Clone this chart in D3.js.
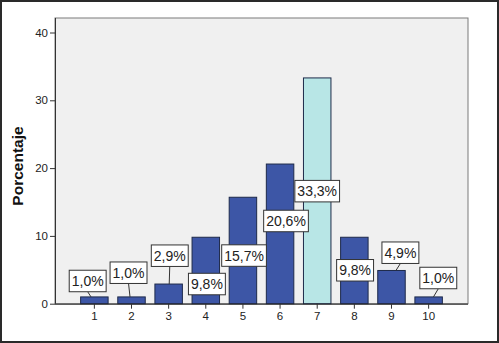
<!DOCTYPE html>
<html>
<head>
<meta charset="utf-8">
<script src="https://cdn.jsdelivr.net/npm/d3@7"></script>
<style>
  html, body { margin: 0; padding: 0; background: #fff; }
  svg { display: block; }
  text { font-family: "Liberation Sans", Arial, sans-serif; }
</style>
</head>
<body>
<script>
// ---- data ----
const categories = ["1", "2", "3", "4", "5", "6", "7", "8", "9", "10"];
const values = [1.0, 1.0, 2.9, 9.8, 15.7, 20.6, 33.3, 9.8, 4.9, 1.0];
const valueLabels = ["1,0%", "1,0%", "2,9%", "9,8%", "15,7%", "20,6%", "33,3%", "9,8%", "4,9%", "1,0%"];
const highlighted = ["7"];
// label anchor (in percent units) and horizontal shift (in band steps)
const labelAt = [3.35, 4.57, 7.08, 2.9, 7.1, 12.2, 16.6, 4.93, 7.52, 3.79];
const labelShift = [-0.18, -0.08, 0.03, 0.03, 0.03, 0.16, 0, 0.02, 0.24, 0.26];
const yTicks = [0, 10, 20, 30, 40];
const yTitle = "Porcentaje";

// ---- layout ----
const W = 499, H = 343;
const plot = { left: 55, right: 468, top: 18, bottom: 303.7 };

const svg = d3.select("body").append("svg").attr("width", W).attr("height", H);

// outer frame
svg.append("rect").attr("x", 1).attr("y", 1).attr("width", W - 2).attr("height", H - 2)
  .attr("fill", "#fff").attr("stroke", "#2a2a2a").attr("stroke-width", 2);

const x = d3.scaleBand().domain(categories).range([plot.left, plot.right])
  .paddingInner(0.26).paddingOuter(0.69);
const y = d3.scaleLinear().domain([0, 40]).range([plot.bottom, 32.5]);

// plot background
svg.append("rect").attr("x", plot.left).attr("y", plot.top)
  .attr("width", plot.right - plot.left).attr("height", plot.bottom - plot.top)
  .attr("fill", "#f0f0f0").attr("stroke", "#7a7a7a").attr("stroke-width", 1);

// bars
svg.append("g").selectAll("rect").data(categories).join("rect")
  .attr("x", d => x(d))
  .attr("y", (d, i) => y(values[i]))
  .attr("width", x.bandwidth())
  .attr("height", (d, i) => y(0) - y(values[i]))
  .attr("fill", d => highlighted.includes(d) ? "#b8e6e6" : "#3d56a6")
  .attr("stroke", "#1e2a4a").attr("stroke-width", 1);

// y axis
const yAxis = svg.append("g").attr("transform", `translate(${plot.left},0)`)
  .call(d3.axisLeft(y).tickValues(yTicks).tickSize(5).tickPadding(2));
yAxis.select(".domain").attr("d", `M0.5,${plot.top}V${plot.bottom}`).attr("stroke", "#333");
yAxis.selectAll(".tick line").attr("stroke", "#333");
yAxis.selectAll(".tick text").attr("font-size", 11.5).attr("fill", "#222")
  .attr("font-family", "Liberation Sans, Arial, sans-serif");

// x axis
const xAxis = svg.append("g").attr("transform", `translate(0,${plot.bottom})`)
  .call(d3.axisBottom(x).tickSize(5).tickPadding(3));
xAxis.select(".domain").attr("d", `M${plot.left},0.5H${plot.right}`).attr("stroke", "#222");
xAxis.selectAll(".tick line").attr("stroke", "#333");
xAxis.selectAll(".tick text").attr("font-size", 11.5).attr("fill", "#222")
  .attr("font-family", "Liberation Sans, Arial, sans-serif");

// y title
svg.append("text")
  .attr("transform", `translate(23,166) rotate(-90)`)
  .attr("text-anchor", "middle")
  .attr("font-size", 15.5).attr("font-weight", "bold").attr("fill", "#111")
  .text(yTitle);

// value labels
const step = x.step();
const lg = svg.append("g");
categories.forEach((c, i) => {
  const bx = x(c) + x.bandwidth() / 2;
  const cx = bx + labelShift[i] * step;
  const cy = y(labelAt[i]);
  const g = lg.append("g");
  const line = g.append("line");
  const rect = g.append("rect");
  const t = g.append("text").attr("x", cx).attr("y", cy).attr("dy", "0.36em")
    .attr("text-anchor", "middle").attr("font-size", 14).attr("fill", "#222")
    .text(valueLabels[i]);
  const tw = t.node().getComputedTextLength();
  const bw = tw + 5, bh = 21.5;
  rect.attr("x", cx - bw / 2).attr("y", cy - bh / 2).attr("width", bw).attr("height", bh)
    .attr("fill", "#fff").attr("stroke", "#333").attr("stroke-width", 1);
  const barTop = y(values[i]);
  if (cy + bh / 2 < barTop) {
    line.attr("x1", cx).attr("y1", cy + bh / 2)
      .attr("x2", bx + (cx - bx) * 0.5).attr("y2", barTop)
      .attr("stroke", "#333").attr("stroke-width", 1);
  } else {
    line.remove();
  }
});
</script>
</body>
</html>
